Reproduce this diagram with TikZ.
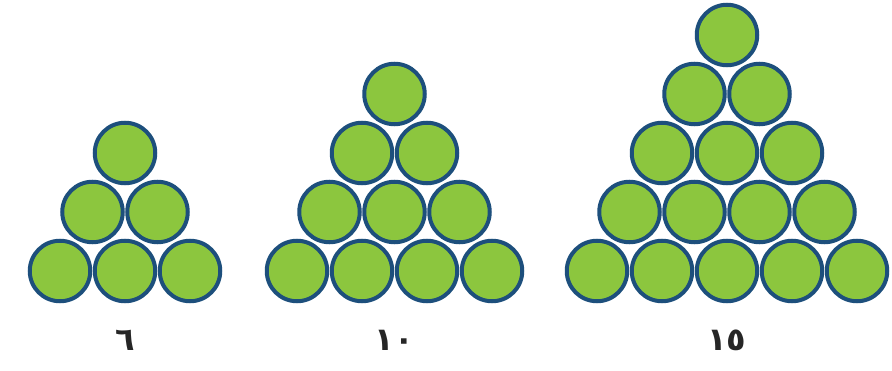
\documentclass[tikz,border=0pt]{standalone}
\usepackage{fontspec}
\newfontfamily\arabicfont[Script=Arabic]{DejaVu Sans}
\definecolor{cGreen}{HTML}{8CC63E}
\definecolor{cNavy}{HTML}{1D4F7C}
\tikzset{
  ball/.style={circle, draw=cNavy, fill=cGreen, line width=4pt,
    minimum size=60.5pt, inner sep=0pt},
  count/.style={font=\arabicfont\bfseries\fontsize{32}{32}\selectfont, text=black!85},
}
% one triangular pile: name, rows, centre x, label
\newcommand\drawpile[4]{%
  \foreach \k in {1,...,#2} {
    \pgfmathtruncatemacro\m{#2-\k+1}
    \foreach \i in {1,...,\m} {
      \node[ball] (#1-\k-\i) at ({#3+(\i-(\m+1)/2)*65}, {99+(\k-1)*59}) {};
    }
  }
  \node[count] (#1-lbl) at (#3,30) {#4};
}
\begin{document}
\begin{tikzpicture}[x=1pt, y=1pt]
  \useasboundingbox (0,0) rectangle (892,370);

  % six
  \drawpile{six}{3}{125}{٦}
  % ten
  \drawpile{ten}{4}{394.5}{١٠}
  % fifteen
  \drawpile{fif}{5}{727}{١٥}

\end{tikzpicture}
\end{document}
